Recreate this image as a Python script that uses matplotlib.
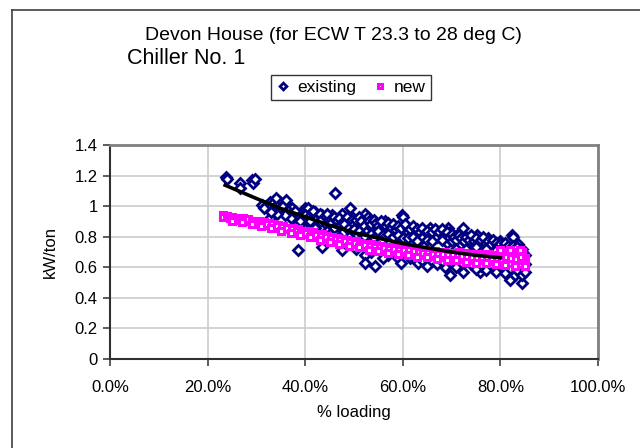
import matplotlib.pyplot as plt
from matplotlib.lines import Line2D
from matplotlib.ticker import FixedLocator, FixedFormatter

plt.rcParams['font.family'] = ['Liberation Sans', 'DejaVu Sans']

# existing chiller: (% loading, kW/ton)
ex_x = [0.238, 0.240, 0.266, 0.266, 0.291, 0.293, 0.297,
        0.311, 0.328, 0.334, 0.348, 0.359, 0.363, 0.352, 0.373, 0.379, 0.328, 0.385, 0.383, 0.385,
        0.32, 0.325, 0.335, 0.34, 0.345, 0.355, 0.36, 0.365, 0.37, 0.375, 0.38, 0.39, 0.395, 0.39,
        0.37, 0.358, 0.342, 0.33, 0.315, 0.36, 0.34,
        0.40, 0.406, 0.42, 0.434, 0.455, 0.475, 0.492, 0.498, 0.461, 0.457, 0.486, 0.416, 0.434, 0.475,
        0.41, 0.415, 0.425, 0.43, 0.44, 0.445, 0.45, 0.46, 0.465, 0.47, 0.48, 0.485, 0.49, 0.495,
        0.40, 0.405, 0.42, 0.44, 0.45, 0.47, 0.48, 0.49, 0.50, 0.41, 0.43, 0.46, 0.445, 0.42, 0.47,
        0.40, 0.45, 0.49,
        0.523, 0.529, 0.512, 0.523, 0.523, 0.543, 0.547, 0.564, 0.58, 0.598, 0.60,
        0.505, 0.51, 0.515, 0.52, 0.53, 0.535, 0.54, 0.545, 0.55, 0.555, 0.56, 0.565, 0.57, 0.575,
        0.58, 0.585, 0.59, 0.595, 0.50, 0.51, 0.525, 0.535, 0.55, 0.56, 0.57, 0.58, 0.59, 0.60,
        0.52, 0.54, 0.555, 0.515, 0.535, 0.57, 0.59, 0.56, 0.505,
        0.611, 0.621, 0.656, 0.67, 0.693, 0.697, 0.69, 0.676, 0.635, 0.596, 0.631, 0.686, 0.697,
        0.605, 0.61, 0.615, 0.62, 0.625, 0.63, 0.635, 0.64, 0.645, 0.65, 0.655, 0.66, 0.665, 0.67,
        0.675, 0.68, 0.685, 0.69, 0.695, 0.70, 0.61, 0.62, 0.64, 0.65, 0.66, 0.68, 0.70, 0.63,
        0.615, 0.64, 0.66, 0.67, 0.65, 0.68, 0.70, 0.62,
        0.713, 0.723, 0.752, 0.775, 0.80, 0.824, 0.836, 0.732, 0.723, 0.758, 0.805, 0.82, 0.844,
        0.83, 0.814, 0.783, 0.844, 0.846, 0.826,
        0.705, 0.71, 0.715, 0.72, 0.725, 0.73, 0.735, 0.74, 0.745, 0.75, 0.755, 0.76, 0.765, 0.77,
        0.775, 0.78, 0.785, 0.79, 0.795, 0.80, 0.805, 0.81, 0.815, 0.82, 0.825, 0.83, 0.835, 0.84,
        0.845, 0.85, 0.71, 0.73, 0.75, 0.77, 0.79, 0.81, 0.74, 0.76, 0.78, 0.80, 0.82, 0.84, 0.85,
        0.72, 0.75, 0.77, 0.79, 0.81, 0.835, 0.845, 0.73, 0.71, 0.80, 0.84, 0.83, 0.85]
ex_y = [1.19, 1.18, 1.15, 1.12, 1.17, 1.15, 1.18,
        1.01, 1.03, 1.02, 1.03, 1.02, 0.99, 0.97, 0.99, 0.96, 0.92, 0.91, 0.88, 0.71,
        1.00, 0.99, 0.98, 1.00, 0.97, 1.00, 0.96, 0.97, 0.95, 0.94, 0.97, 0.93, 0.95, 0.90,
        0.92, 0.94, 0.95, 0.96, 0.985, 1.04, 1.05,
        0.99, 0.99, 0.96, 0.94, 0.94, 0.95, 0.99, 0.92, 1.085, 0.89, 0.86, 0.88, 0.73, 0.71,
        0.95, 0.97, 0.93, 0.95, 0.92, 0.95, 0.91, 0.93, 0.90, 0.92, 0.90, 0.93, 0.89, 0.91,
        0.94, 0.92, 0.91, 0.89, 0.88, 0.87, 0.88, 0.86, 0.88, 0.90, 0.90, 0.86, 0.84, 0.86, 0.80,
        0.85, 0.82, 0.80,
        0.95, 0.93, 0.89, 0.68, 0.63, 0.61, 0.86, 0.90, 0.86, 0.94, 0.93,
        0.91, 0.93, 0.90, 0.87, 0.90, 0.88, 0.91, 0.89, 0.87, 0.90, 0.85, 0.87, 0.89, 0.86,
        0.88, 0.84, 0.87, 0.85, 0.85, 0.84, 0.83, 0.82, 0.84, 0.81, 0.82, 0.80, 0.81, 0.79,
        0.80, 0.79, 0.77, 0.76, 0.70, 0.68, 0.66, 0.66, 0.72,
        0.86, 0.84, 0.86, 0.84, 0.86, 0.83, 0.76, 0.81, 0.79, 0.63, 0.63, 0.60, 0.55,
        0.88, 0.83, 0.85, 0.87, 0.82, 0.85, 0.83, 0.86, 0.82, 0.84, 0.80, 0.83, 0.85, 0.80,
        0.83, 0.85, 0.81, 0.83, 0.79, 0.82, 0.79, 0.80, 0.79, 0.78, 0.77, 0.78, 0.77, 0.77,
        0.66, 0.65, 0.64, 0.62, 0.61, 0.64, 0.63, 0.67,
        0.82, 0.86, 0.81, 0.79, 0.77, 0.81, 0.75, 0.75, 0.57, 0.57, 0.58, 0.52, 0.50,
        0.55, 0.61, 0.60, 0.70, 0.63, 0.80,
        0.80, 0.78, 0.81, 0.79, 0.77, 0.80, 0.78, 0.81, 0.77, 0.79, 0.76, 0.78, 0.80, 0.76,
        0.77, 0.75, 0.78, 0.76, 0.74, 0.75, 0.73, 0.76, 0.74, 0.72, 0.74, 0.72, 0.73, 0.71,
        0.72, 0.68, 0.72, 0.72, 0.73, 0.72, 0.71, 0.70, 0.62, 0.61, 0.62, 0.61, 0.59, 0.60, 0.62,
        0.62, 0.59, 0.58, 0.57, 0.56, 0.58, 0.55, 0.64, 0.60, 0.64, 0.66, 0.64, 0.57]

# new chiller
new_x = [0.232, 0.232, 0.24, 0.245, 0.25, 0.255, 0.262, 0.268, 0.272, 0.278, 0.283, 0.29, 0.295,
         0.30, 0.305, 0.31, 0.316, 0.32, 0.325, 0.33, 0.335, 0.34, 0.345, 0.35, 0.355, 0.36,
         0.365, 0.37, 0.375, 0.38, 0.385, 0.39, 0.395, 0.40, 0.405, 0.41, 0.415, 0.42, 0.425,
         0.43, 0.435, 0.44, 0.445, 0.45, 0.455, 0.46, 0.465, 0.47, 0.475, 0.48, 0.485, 0.49,
         0.495, 0.50, 0.505, 0.51, 0.515, 0.52, 0.525, 0.53, 0.535, 0.54, 0.545, 0.55, 0.555,
         0.56, 0.565, 0.57, 0.575, 0.58, 0.585, 0.59, 0.595, 0.60, 0.605, 0.61, 0.615, 0.62,
         0.625, 0.63, 0.635, 0.64, 0.645, 0.65, 0.655, 0.66, 0.665, 0.67, 0.675, 0.68, 0.685,
         0.69, 0.695, 0.70, 0.705, 0.71, 0.715, 0.72, 0.725, 0.73, 0.735, 0.74, 0.745, 0.75,
         0.755, 0.76, 0.765, 0.77, 0.775, 0.78, 0.785, 0.79, 0.795, 0.80, 0.805, 0.81, 0.815,
         0.82, 0.825, 0.83, 0.835, 0.84, 0.845, 0.85, 0.85, 0.845, 0.84, 0.83, 0.82, 0.81, 0.80,
         0.79, 0.78, 0.77, 0.76, 0.75, 0.74, 0.73, 0.72, 0.71, 0.70, 0.69, 0.68, 0.67, 0.66,
         0.65, 0.64, 0.63, 0.62, 0.61, 0.60, 0.59, 0.58, 0.57, 0.56, 0.55, 0.54, 0.53, 0.52,
         0.51, 0.50, 0.49, 0.48, 0.47, 0.46, 0.45, 0.44, 0.43, 0.42, 0.41, 0.40, 0.39, 0.38,
         0.37, 0.36, 0.35, 0.34, 0.33, 0.32,
         0.25, 0.27, 0.29, 0.31, 0.33, 0.35, 0.37, 0.39, 0.41, 0.43, 0.45, 0.47, 0.49, 0.51,
         0.53, 0.55, 0.57, 0.59, 0.61, 0.63, 0.65, 0.67, 0.69, 0.71, 0.73, 0.75, 0.77, 0.79,
         0.81, 0.83, 0.85, 0.80, 0.82, 0.84]
new_y = [0.945, 0.93, 0.935, 0.925, 0.93, 0.915, 0.925, 0.91, 0.92, 0.905, 0.915, 0.90, 0.905,
         0.89, 0.90, 0.885, 0.895, 0.875, 0.89, 0.87, 0.88, 0.86, 0.875, 0.855, 0.87, 0.85,
         0.86, 0.84, 0.855, 0.83, 0.85, 0.82, 0.84, 0.815, 0.835, 0.81, 0.83, 0.80, 0.82,
         0.795, 0.815, 0.79, 0.805, 0.78, 0.80, 0.775, 0.79, 0.77, 0.785, 0.76, 0.78, 0.755,
         0.775, 0.75, 0.77, 0.745, 0.76, 0.735, 0.755, 0.73, 0.75, 0.725, 0.745, 0.72, 0.74,
         0.715, 0.735, 0.71, 0.735, 0.705, 0.73, 0.70, 0.725, 0.70, 0.72, 0.695, 0.72, 0.69,
         0.715, 0.685, 0.71, 0.68, 0.71, 0.68, 0.705, 0.675, 0.705, 0.67, 0.70, 0.67, 0.70,
         0.665, 0.695, 0.66, 0.695, 0.66, 0.70, 0.655, 0.695, 0.65, 0.69, 0.65, 0.69, 0.645,
         0.685, 0.645, 0.685, 0.64, 0.685, 0.64, 0.68, 0.635, 0.68, 0.63, 0.70, 0.63, 0.70,
         0.625, 0.695, 0.62, 0.69, 0.62, 0.70, 0.625, 0.66, 0.65, 0.67, 0.655, 0.66, 0.665, 0.655,
         0.66, 0.66, 0.665, 0.665, 0.665, 0.67, 0.67, 0.675, 0.68, 0.68, 0.68, 0.685, 0.69, 0.69,
         0.695, 0.695, 0.70, 0.705, 0.71, 0.71, 0.715, 0.72, 0.72, 0.725, 0.73, 0.735, 0.74, 0.745,
         0.75, 0.76, 0.765, 0.77, 0.78, 0.785, 0.79, 0.80, 0.805, 0.81, 0.82, 0.825, 0.83, 0.84,
         0.85, 0.86, 0.865, 0.87, 0.88, 0.885,
         0.905, 0.895, 0.885, 0.87, 0.855, 0.84, 0.825, 0.81, 0.795, 0.78, 0.765, 0.755, 0.74, 0.73,
         0.715, 0.705, 0.695, 0.685, 0.68, 0.67, 0.665, 0.655, 0.65, 0.645, 0.635, 0.63, 0.625, 0.62,
         0.615, 0.61, 0.61, 0.715, 0.715, 0.71]

# trendline of existing series
trend_x = [0.236, 0.30, 0.35, 0.40, 0.45, 0.50, 0.55, 0.60, 0.65, 0.70, 0.75, 0.80]
trend_y = [1.137, 1.05, 0.985, 0.93, 0.875, 0.827, 0.79, 0.755, 0.727, 0.70, 0.678, 0.662]

x_ticks = [0, 0.2, 0.4, 0.6, 0.8, 1.0]
x_labels = ['0.0%', '20.0%', '40.0%', '60.0%', '80.0%', '100.0%']
y_ticks = [0, 0.2, 0.4, 0.6, 0.8, 1.0, 1.2, 1.4]
y_labels = ['0', '0.2', '0.4', '0.6', '0.8', '1', '1.2', '1.4']

fig = plt.figure(figsize=(6.4, 4.48), dpi=100)
ax = fig.add_axes([110/640, 1 - 359/448, 488/640, 214/448])

ax.plot(ex_x, ex_y, 'D', ms=4.6, mfc='white', mec='#000080', mew=2.0, label='existing', zorder=3)
ax.plot(new_x, new_y, 's', ms=4.6, mfc='white', mec='#FF00FF', mew=2.2, label='new', zorder=4)
ax.plot(trend_x, trend_y, color='black', lw=2.6, zorder=5)

ax.set_xlim(0, 1)
ax.set_ylim(0, 1.4)
ax.xaxis.set_major_locator(FixedLocator(x_ticks))
ax.xaxis.set_major_formatter(FixedFormatter(x_labels))
ax.yaxis.set_major_locator(FixedLocator(y_ticks))
ax.yaxis.set_major_formatter(FixedFormatter(y_labels))
ax.grid(True, color='#cccccc', lw=1.2)
ax.set_axisbelow(True)
ax.tick_params(direction='out', length=5, width=1.2, color='#404040', labelsize=12, pad=4)
ax.tick_params(axis='x', pad=10)
for s in ['top', 'right']:
    ax.spines[s].set_color('#808080')
    ax.spines[s].set_linewidth(2)
for s in ['left', 'bottom']:
    ax.spines[s].set_color('#303030')
    ax.spines[s].set_linewidth(1.5)

ax.set_xlabel('% loading', fontsize=12, labelpad=7)
ax.set_ylabel('kW/ton', fontsize=12, labelpad=12)

fig.text(333/640, 1 - 35/448, 'Devon House (for ECW T 23.3 to 28 deg C)', fontsize=14,
         ha='center', va='center')
fig.text(127/640, 1 - 58/448, 'Chiller No. 1', fontsize=15.5, ha='left', va='center')

leg = fig.legend(loc='center', bbox_to_anchor=(351/640, 1 - 87.5/448), ncol=2, fontsize=12.5,
                 frameon=True, fancybox=False, edgecolor='black', handlelength=0.8,
                 handletextpad=0.4, columnspacing=1.0, borderpad=0.3, markerscale=0.75)
leg.get_frame().set_linewidth(1.0)

# outer chart border
fig.add_artist(Line2D([12/640, 12/640], [0, 1 - 10/448], color='#404040', lw=1.2))
fig.add_artist(Line2D([12/640, 1], [1 - 10/448, 1 - 10/448], color='#404040', lw=1.2))

fig.savefig('out.png', dpi=100)
